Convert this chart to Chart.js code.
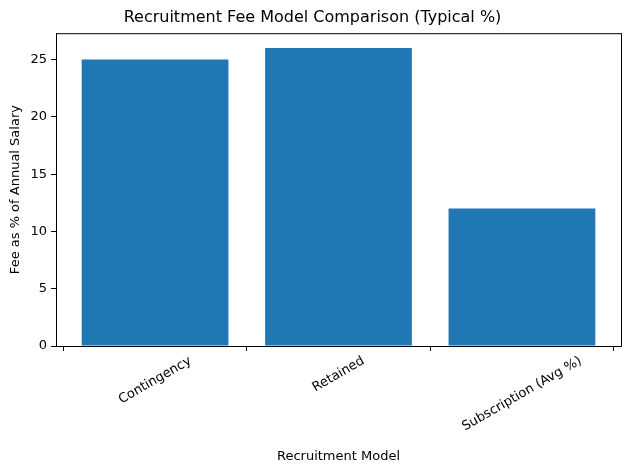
<!DOCTYPE html>
<html>
<head>
<meta charset="utf-8">
<script src="https://cdn.jsdelivr.net/npm/chart.js@4"></script>
<style>
  body { margin: 0; background: #fff; }
</style>
</head>
<body>
<canvas id="chart" width="630" height="470"></canvas>
<script>
const models = ["Contingency", "Retained", "Subscription (Avg %)"];
const feePercent = [25, 26, 12];
const yTicks = [0, 5, 10, 15, 20, 25];

const font = { family: "DejaVu Sans", size: 13 };

// box around the plot area + category labels rotated about their centre
const frame = {
  id: "frame",
  afterDraw(chart) {
    const { ctx, chartArea: a } = chart;
    const xs = chart.scales.x;
    ctx.save();
    ctx.strokeStyle = "#000";
    ctx.lineWidth = 1;
    ctx.strokeRect(a.left + 0.5, a.top + 0.5, a.right - a.left, a.bottom - a.top);
    ctx.fillStyle = "#000";
    ctx.font = "13px 'DejaVu Sans'";
    ctx.textAlign = "center";
    ctx.textBaseline = "middle";
    models.forEach((m, i) => {
      const w = ctx.measureText(m).width;
      const ang = -30 * Math.PI / 180;
      // half-extent of rotated box vertically
      const h = Math.abs(Math.sin(ang)) * w / 2 + Math.cos(ang) * 7;
      ctx.save();
      ctx.translate(xs.getPixelForValue(i), a.bottom + 8 + h);
      ctx.rotate(ang);
      ctx.fillText(m, 0, 0);
      ctx.restore();
    });
    ctx.restore();
  }
};

new Chart(document.getElementById("chart"), {
  type: "bar",
  data: {
    datasets: [{
      data: feePercent.map((v, i) => ({ x: i, y: v })),
      backgroundColor: "#1f77b4",
      borderWidth: 0,
      categoryPercentage: 1,
      barPercentage: 0.8
    }]
  },
  options: {
    responsive: false,
    animation: false,
    layout: { padding: { top: 0, right: 9, bottom: 0, left: 4 } },
    plugins: {
      legend: { display: false },
      tooltip: { enabled: false },
      title: {
        display: true,
        text: "Recruitment Fee Model Comparison (Typical %)",
        color: "#000",
        font: { family: "DejaVu Sans", size: 16, weight: "normal" },
        padding: { top: 8, bottom: 6 }
      }
    },
    scales: {
      x: {
        type: "linear",
        min: -0.54,
        max: 2.54,
        offset: false,
        afterBuildTicks(s) { s.ticks = models.map((m, i) => ({ value: i })); },
        grid: { drawOnChartArea: false, color: "#000", tickLength: 5 },
        border: { color: "#000" },
        ticks: { color: "rgba(0,0,0,0)", font, maxRotation: 0, callback: () => "" },
        title: { display: true, text: "Recruitment Model", color: "#000", font, padding: { top: 4, bottom: 6 } },
        afterFit(s) { s.height = 124; }
      },
      y: {
        min: 0,
        max: 27.3,
        afterBuildTicks(s) { s.ticks = yTicks.map(v => ({ value: v })); },
        grid: { drawOnChartArea: false, color: "#000", tickLength: 5 },
        border: { color: "#000" },
        ticks: { color: "#000", font, padding: 4 },
        title: { display: true, text: "Fee as % of Annual Salary", color: "#000", font },
        afterFit(s) { s.width = 52; }
      }
    }
  },
  plugins: [frame]
});
</script>
</body>
</html>
